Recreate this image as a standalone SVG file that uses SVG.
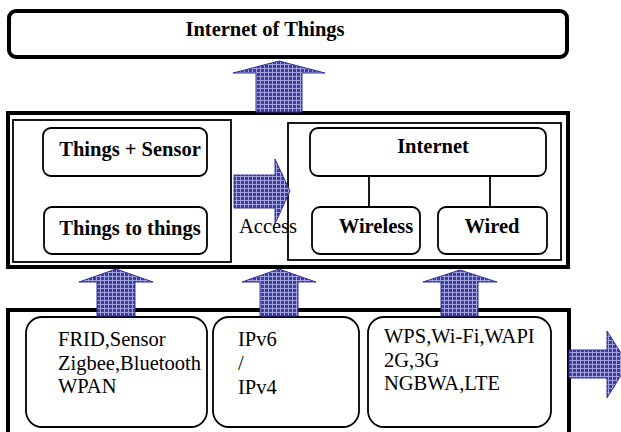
<svg xmlns="http://www.w3.org/2000/svg" width="621" height="432" viewBox="0 0 621 432">
<defs>
<pattern id="grid" width="4" height="4" patternUnits="userSpaceOnUse">
<rect width="4" height="4" fill="#3c3ca8"/>
<path d="M0 0.5H4M0.5 0V4" stroke="#a4a4dc" stroke-width="1"/>
</pattern>
<style>
.frame{fill:none;stroke:#000;stroke-width:4}
.inner{fill:none;stroke:#000;stroke-width:1.8}
.node{fill:#fff;stroke:#000;stroke-width:1.8}
.b{font-weight:bold;font-size:20.5px;fill:#000;text-anchor:middle}
.t{font-size:20.5px;fill:#000}
.arrow{fill:url(#grid);stroke:#333399;stroke-width:1}
.link{stroke:#000;stroke-width:1.8;fill:none}
</style>
</defs>
<rect width="621" height="432" fill="#fff"/>
<g font-family="'Liberation Serif', 'Times New Roman', Times, serif">

<g id="iot">
<rect x="9" y="11" width="558" height="46" rx="7" class="frame"/>
<text x="265" y="36" class="b">Internet of Things</text>
</g>

<g id="middle-layer">
<rect x="8" y="113" width="560" height="154" class="frame"/>
<rect x="13" y="120" width="218" height="142" class="inner"/>
<rect x="288" y="123" width="273" height="137" class="inner"/>
</g>

<g id="things-sensor">
<rect x="43" y="128" width="164" height="48" rx="8" class="node"/>
<text x="130" y="156" class="b">Things + Sensor</text>
</g>
<g id="things-to-things">
<rect x="44" y="207" width="163" height="47" rx="8" class="node"/>
<text x="130" y="235" class="b">Things to things</text>
</g>
<g id="internet">
<rect x="310" y="128" width="236" height="48" rx="8" class="node"/>
<text x="433" y="153" class="b">Internet</text>
</g>
<g id="wireless">
<rect x="312" y="207" width="108" height="47" rx="8" class="node"/>
<text x="376" y="233" class="b">Wireless</text>
</g>
<g id="wired">
<rect x="438" y="207" width="109" height="47" rx="8" class="node"/>
<text x="492" y="233" class="b">Wired</text>
</g>

<g id="bottom-layer">
<rect x="8" y="310" width="561" height="130" class="frame"/>
</g>
<g id="pan">
<rect x="26" y="317" width="181" height="110" rx="16" class="node"/>
<text class="t"><tspan x="58" y="346">FRID,Sensor</tspan><tspan x="58" y="370">Zigbee,Bluetooth</tspan><tspan x="58" y="393">WPAN</tspan></text>
</g>
<g id="ip">
<rect x="213" y="317" width="146" height="110" rx="16" class="node"/>
<text class="t"><tspan x="238" y="346">IPv6</tspan><tspan x="238" y="370">/</tspan><tspan x="238" y="394">IPv4</tspan></text>
</g>
<g id="wan">
<rect x="368" y="317" width="183" height="110" rx="16" class="node"/>
<text class="t"><tspan x="384" y="343">WPS,Wi-Fi,WAPI</tspan><tspan x="384" y="367">2G,3G</tspan><tspan x="384" y="390">NGBWA,LTE</tspan></text>
</g>

<g id="connectors">
<line x1="369" y1="176" x2="369" y2="207" class="link"/>
<line x1="490" y1="176" x2="490" y2="207" class="link"/>
<polygon class="arrow" points="256,112 256,73 233,73 279,61 325,73 302,73 302,112"/>
<polygon class="arrow" points="234,175 275,175 275,159 290,191 275,224 275,208 234,208"/>
<polygon class="arrow" points="97,316 97,282 79,282 116,269 153,282 135,282 135,316"/>
<polygon class="arrow" points="260,316 260,282 242,282 279,269 316,282 298,282 298,316"/>
<polygon class="arrow" points="441,316 441,282 423,282 460,270 497,282 478,282 478,316"/>
<polygon class="arrow" points="569,350 607,350 607,331 628,364 607,398 607,378 569,378"/>
</g>
<text x="239" y="233" class="t">Access</text>
</g>
</svg>
